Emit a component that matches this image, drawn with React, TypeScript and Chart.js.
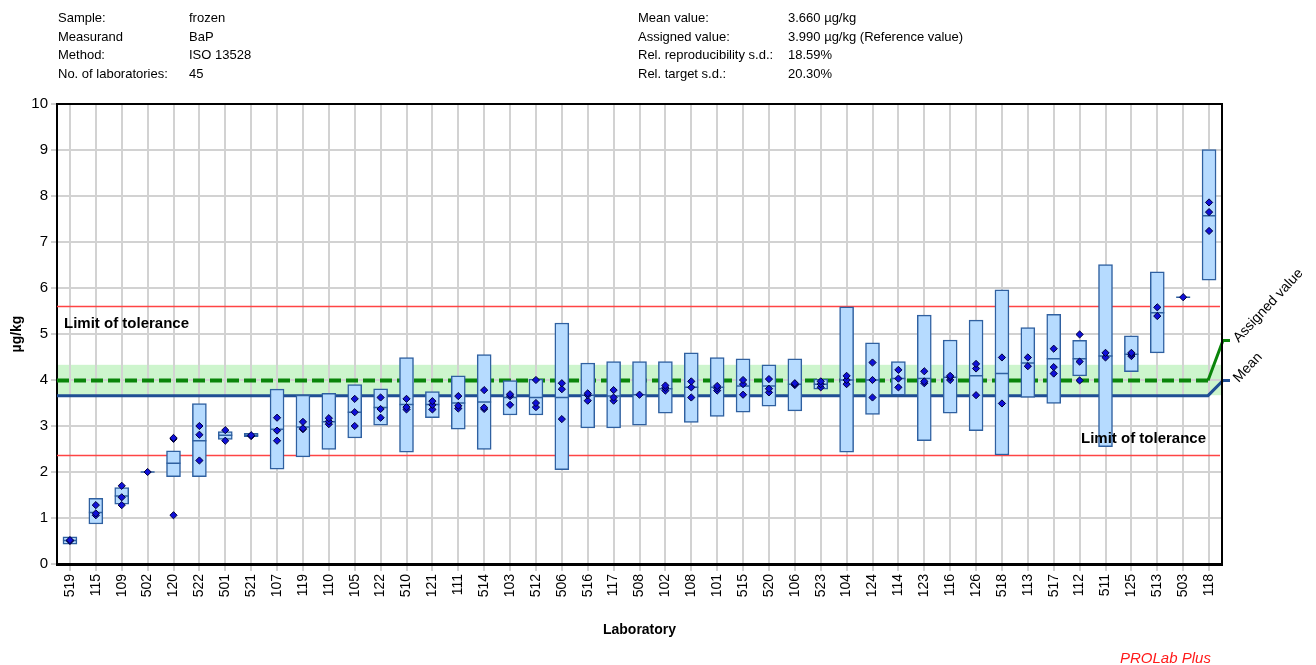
import React, { useEffect, useRef } from 'react';
import { Chart, registerables } from 'chart.js';

Chart.register(...registerables);

// ---------- data ----------
const labs = ['519', '115', '109', '502', '120', '522', '501', '521', '107', '119', '110', '105', '122', '510', '121', '111', '514', '103', '512', '506', '516', '117', '508', '102', '108', '101', '515', '520', '106', '523', '104', '124', '114', '123', '116', '126', '518', '113', '517', '112', '511', '125', '513', '503', '118'];

const boxLow = [0.43, 0.87, 1.30, 2.0, 1.90, 1.90, 2.71, 2.77, 2.06, 2.33, 2.49, 2.74, 3.02, 2.43, 3.18, 2.93, 2.49, 3.24, 3.24, 2.05, 2.96, 2.96, 3.02, 3.28, 3.08, 3.21, 3.30, 3.43, 3.33, 3.80, 2.43, 3.25, 3.67, 2.68, 3.28, 2.90, 2.37, 3.62, 3.49, 4.09, 2.55, 4.18, 4.59, 5.80, 6.17];
const boxHigh = [0.59, 1.43, 1.66, 2.0, 2.46, 3.49, 2.88, 2.84, 3.80, 3.67, 3.71, 3.90, 3.81, 4.49, 3.75, 4.09, 4.55, 3.99, 4.02, 5.24, 4.37, 4.40, 4.40, 4.40, 4.59, 4.49, 4.46, 4.33, 4.46, 4.02, 5.59, 4.81, 4.40, 5.41, 4.87, 5.30, 5.96, 5.14, 5.43, 4.86, 6.51, 4.96, 6.35, 5.80, 9.01];
const medians = [0.51, 1.12, 1.48, 2.0, 2.19, 2.68, 2.80, 2.80, 2.93, 2.98, 3.09, 3.30, 3.40, 3.47, 3.47, 3.50, 3.52, 3.62, 3.62, 3.62, 3.67, 3.65, 3.68, 3.81, 3.84, 3.84, 3.87, 3.87, 3.91, 3.91, 4.00, 4.00, 4.03, 4.03, 4.06, 4.09, 4.14, 4.37, 4.46, 4.46, 4.52, 4.56, 5.46, 5.80, 7.57];

const rep1 = [0.52, 1.28, 1.70, 2.0, 2.74, 3.00, 2.91, 2.80, 3.18, 3.09, 3.17, 3.59, 3.62, 3.59, 3.54, 3.65, 3.78, 3.69, 4.00, 3.93, 3.71, 3.78, 3.68, 3.88, 3.97, 3.87, 4.00, 4.02, 3.93, 3.97, 4.09, 4.38, 4.22, 4.19, 4.09, 4.35, 4.49, 4.49, 4.68, 4.99, 4.59, 4.59, 5.58, 5.80, 7.86];
const rep2 = [0.50, 1.10, 1.45, null, 2.72, 2.81, 2.68, 2.78, 2.90, 2.95, 3.10, 3.30, 3.37, 3.41, 3.46, 3.44, 3.40, 3.65, 3.50, 3.80, 3.67, 3.62, null, 3.83, 3.84, 3.82, 3.91, 3.81, 3.91, 3.91, 4.00, 4.00, 4.03, 3.97, 4.06, 4.25, 3.49, 4.30, 4.28, 4.40, 4.49, 4.56, 5.39, null, 7.65];
const rep3 = [null, 1.06, 1.28, null, 1.06, 2.25, null, null, 2.68, 2.93, 3.04, 3.00, 3.18, 3.36, 3.36, 3.38, 3.37, 3.46, 3.41, 3.15, 3.55, 3.55, null, 3.77, 3.62, 3.77, 3.68, 3.73, 3.89, 3.84, 3.91, 3.62, 3.84, 3.93, 4.00, 3.67, null, null, 4.14, 3.99, null, 4.52, null, null, 7.24];

const MEAN_VALUE = 3.66;
const ASSIGNED_VALUE = 3.99;
const UPPER_LIMIT = 5.61;
const LOWER_LIMIT = 2.37;
const BAND_LOW = 3.67;
const BAND_HIGH = 4.33;
const Y_MIN = 0;
const Y_MAX = 10;

const headerLeft = [
  ['Sample:', 'frozen'],
  ['Measurand', 'BaP'],
  ['Method:', 'ISO 13528'],
  ['No. of laboratories:', '45'],
];
const headerRight = [
  ['Mean value:', '3.660 µg/kg'],
  ['Assigned value:', '3.990 µg/kg (Reference value)'],
  ['Rel. reproducibility s.d.:', '18.59%'],
  ['Rel. target s.d.:', '20.30%'],
];

const FONT = "'Liberation Sans', Arial, sans-serif";
const BOX_FILL = '#b6dbff';
const BOX_LINE = '#2f60a0';
const MEAN_COLOR = '#1f4f94';
const ASSIGNED_COLOR = '#0a850a';
const LIMIT_COLOR = '#ff4444';

const overlayPlugin = {
  id: 'overlay',
  beforeDraw(chart: any) {
    const { ctx, chartArea: a, scales } = chart;
    const y = scales.y;
    const t = y.getPixelForValue(BAND_HIGH);
    const b = y.getPixelForValue(BAND_LOW);
    ctx.save();
    ctx.fillStyle = '#cdf5cd';
    ctx.fillRect(a.left, t, a.right - a.left, b - t);
    ctx.restore();
  },
  beforeDatasetsDraw(chart: any) {
    const { ctx, chartArea: a, scales } = chart;
    const y = scales.y;
    ctx.save();
    // limits
    ctx.strokeStyle = LIMIT_COLOR;
    ctx.lineWidth = 1.5;
    [UPPER_LIMIT, LOWER_LIMIT].forEach((v) => {
      const py = Math.round(y.getPixelForValue(v)) + 0.5;
      ctx.beginPath();
      ctx.moveTo(a.left, py);
      ctx.lineTo(a.right - 2, py);
      ctx.stroke();
    });
    const yA = y.getPixelForValue(ASSIGNED_VALUE);
    const yM = y.getPixelForValue(MEAN_VALUE);
    const kink = a.right - 14;
    // mean line
    ctx.strokeStyle = MEAN_COLOR;
    ctx.lineWidth = 3;
    ctx.setLineDash([]);
    ctx.beginPath();
    ctx.moveTo(a.left, yM);
    ctx.lineTo(kink, yM);
    ctx.lineTo(a.right + 1, yA);
    ctx.lineTo(a.right + 8, yA);
    ctx.stroke();
    // assigned value dashed
    ctx.strokeStyle = ASSIGNED_COLOR;
    ctx.lineWidth = 4;
    ctx.setLineDash([12, 5]);
    ctx.beginPath();
    ctx.moveTo(a.left, yA);
    ctx.lineTo(kink, yA);
    ctx.stroke();
    ctx.setLineDash([]);
    ctx.lineWidth = 3;
    ctx.beginPath();
    ctx.moveTo(kink, yA);
    ctx.lineTo(a.right + 1, yA - 40);
    ctx.lineTo(a.right + 8, yA - 40);
    ctx.stroke();
    ctx.restore();
  },
  afterDatasetsDraw(chart: any) {
    const { ctx, chartArea: a, scales } = chart;
    const y = scales.y;
    ctx.save();
    // frame top/right
    ctx.strokeStyle = '#000';
    ctx.lineWidth = 2;
    ctx.beginPath();
    ctx.moveTo(a.left, a.top);
    ctx.lineTo(a.right, a.top);
    ctx.lineTo(a.right, a.bottom);
    ctx.stroke();
    // limit labels
    ctx.fillStyle = '#000';
    ctx.font = `bold 15px ${FONT}`;
    ctx.textBaseline = 'alphabetic';
    ctx.textAlign = 'left';
    ctx.fillText('Limit of tolerance', a.left + 7, y.getPixelForValue(UPPER_LIMIT) + 22);
    ctx.textAlign = 'right';
    ctx.fillText('Limit of tolerance', a.right - 16, y.getPixelForValue(LOWER_LIMIT) - 12);
    // mean / assigned labels
    const yA = y.getPixelForValue(ASSIGNED_VALUE);
    ctx.font = `14px ${FONT}`;
    ctx.textAlign = 'left';
    ctx.textBaseline = 'middle';
    const drawRot = (txt: string, x: number, yy: number) => {
      ctx.save();
      ctx.translate(x, yy);
      ctx.rotate((-47 * Math.PI) / 180);
      ctx.fillText(txt, 0, 0);
      ctx.restore();
    };
    drawRot('Mean', a.right + 14, yA);
    drawRot('Assigned value', a.right + 14, yA - 40);
    // footer
    ctx.fillStyle = '#ff1a1a';
    ctx.font = `italic 15px ${FONT}`;
    ctx.textBaseline = 'alphabetic';
    ctx.textAlign = 'left';
    ctx.fillText('PROLab Plus', 1120, 663);
    ctx.restore();
  },
};

function ChartBox() {
  const ref = useRef<HTMLCanvasElement | null>(null);
  useEffect(() => {
    if (!ref.current) return;
    const chart = new Chart(ref.current, {
      type: 'bar',
      data: {
        labels: labs,
        datasets: [
          {
            type: 'line',
            label: 'Replicate 1',
            data: rep1,
            showLine: false,
            pointStyle: 'rectRot',
            pointRadius: 3.6,
            pointBackgroundColor: '#1010d8',
            pointBorderColor: '#00003a',
            pointBorderWidth: 1,
            order: 0,
          } as any,
          {
            type: 'line',
            label: 'Replicate 2',
            data: rep2,
            showLine: false,
            pointStyle: 'rectRot',
            pointRadius: 3.6,
            pointBackgroundColor: '#1010d8',
            pointBorderColor: '#00003a',
            pointBorderWidth: 1,
            order: 0,
          } as any,
          {
            type: 'line',
            label: 'Replicate 3',
            data: rep3,
            showLine: false,
            pointStyle: 'rectRot',
            pointRadius: 3.6,
            pointBackgroundColor: '#1010d8',
            pointBorderColor: '#00003a',
            pointBorderWidth: 1,
            order: 0,
          } as any,
          {
            type: 'line',
            label: 'Median',
            data: medians,
            showLine: false,
            pointStyle: 'line',
            pointRadius: 7,
            pointBorderColor: BOX_LINE,
            pointBorderWidth: 1.5,
            order: 1,
          } as any,
          {
            type: 'bar',
            label: 'Box',
            data: boxLow.map((l, i) => [l, boxHigh[i]]),
            backgroundColor: BOX_FILL,
            borderColor: BOX_LINE,
            borderWidth: 1.5,
            borderSkipped: false,
            barThickness: 14,
            order: 2,
          } as any,
        ],
      },
      options: {
        animation: false,
        responsive: false,
        maintainAspectRatio: false,
        layout: { padding: { left: 0, top: 104, right: 94, bottom: 0 } },
        plugins: { legend: { display: false }, tooltip: { enabled: false } },
        scales: {
          x: {
            type: 'category',
            offset: true,
            afterFit: (s: any) => {
              s.height = 101;
            },
            grid: {
              offset: false,
              color: '#d2d2d2',
              lineWidth: 2,
              tickLength: 7,
              tickColor: '#a0a0a0',
              tickWidth: 1,
            },
            border: { color: '#000', width: 3 },
            ticks: {
              autoSkip: false,
              maxRotation: 90,
              minRotation: 90,
              padding: 3,
              color: '#000',
              font: { family: FONT, size: 14 },
            },
            title: {
              display: true,
              text: 'Laboratory',
              color: '#000',
              font: { family: FONT, size: 14, weight: 'bold' },
              padding: { top: 0, bottom: 26 },
            },
          },
          y: {
            min: Y_MIN,
            max: Y_MAX,
            afterFit: (s: any) => {
              s.width = 57;
            },
            grid: {
              color: '#d2d2d2',
              lineWidth: 2,
              tickLength: 6,
              tickColor: '#a0a0a0',
              tickWidth: 1,
            },
            border: { color: '#000', width: 2 },
            ticks: {
              stepSize: 1,
              padding: 3,
              color: '#000',
              font: { family: FONT, size: 15 },
            },
            title: {
              display: true,
              text: 'µg/kg',
              color: '#000',
              font: { family: FONT, size: 14, weight: 'bold' },
              padding: { top: 9, bottom: 0 },
            },
          },
        },
      },
      plugins: [overlayPlugin],
    });
    return () => chart.destroy();
  }, []);
  return <canvas ref={ref} width={1316} height={665} style={{ position: 'absolute', left: 0, top: 0 }} />;
}

const textStyle: React.CSSProperties = {
  position: 'absolute',
  font: `13px ${FONT}`,
  lineHeight: '18.6px',
  color: '#000',
  whiteSpace: 'nowrap',
};

export default function App() {
  return (
    <div style={{ position: 'absolute', left: 0, top: 0, width: 1316, height: 665, background: '#fff', overflow: 'hidden' }}>
      <ChartBox />
      {headerLeft.map(([k, v], i) => (
        <React.Fragment key={'l' + i}>
          <div style={{ ...textStyle, left: 58, top: 9 + i * 18.6 }}>{k}</div>
          <div style={{ ...textStyle, left: 189, top: 9 + i * 18.6 }}>{v}</div>
        </React.Fragment>
      ))}
      {headerRight.map(([k, v], i) => (
        <React.Fragment key={'r' + i}>
          <div style={{ ...textStyle, left: 638, top: 9 + i * 18.6 }}>{k}</div>
          <div style={{ ...textStyle, left: 788, top: 9 + i * 18.6 }}>{v}</div>
        </React.Fragment>
      ))}
    </div>
  );
}
